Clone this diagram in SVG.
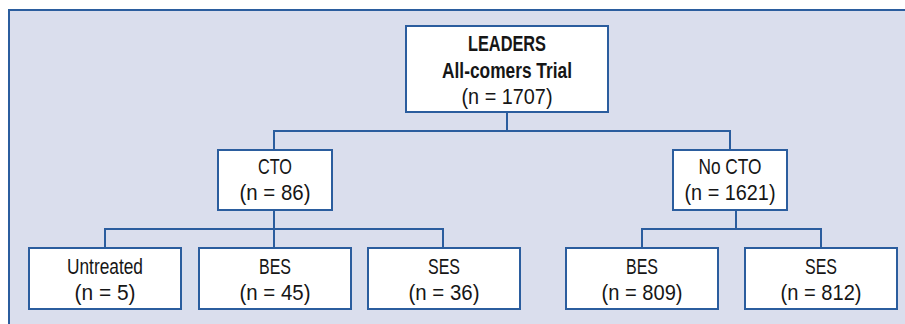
<svg xmlns="http://www.w3.org/2000/svg" width="905" height="324" viewBox="0 0 905 324">
<style>
.bx{fill:#ffffff;stroke:#2b5d9e;stroke-width:2}
.ln{fill:none;stroke:#2b5d9e;stroke-width:2}
text{font-family:"Liberation Sans",Arial,sans-serif;font-size:22px;fill:#161616;text-anchor:middle}
.b{font-weight:bold}
</style>
<rect x="0" y="0" width="905" height="324" fill="#ffffff"/>
<rect x="9" y="10" width="900" height="320" fill="#dadeed" stroke="#2b5d9e" stroke-width="2"/>
<g id="connectors">
<path class="ln" d="M507 111 V131 M274 150 V131 H730 V150"/>
<path class="ln" d="M274 210 V229 M105 248 V229 H443 V248 M274 229 V248"/>
<path class="ln" d="M736 210 V229 M642 248 V229 H821 V248"/>
</g>
<g id="n_root">
<rect class="bx" x="406" y="26" width="202" height="86"/>
<text class="b" x="507" y="51" textLength="78" lengthAdjust="spacingAndGlyphs">LEADERS</text>
<text class="b" x="507" y="78" textLength="130" lengthAdjust="spacingAndGlyphs">All-comers Trial</text>
<text x="507" y="104" textLength="91" lengthAdjust="spacingAndGlyphs">(n = 1707)</text>
</g>
<g id="n_cto">
<rect class="bx" x="218" y="150" width="114" height="60"/>
<text x="275" y="174" textLength="34" lengthAdjust="spacingAndGlyphs">CTO</text>
<text x="275" y="200" textLength="71" lengthAdjust="spacingAndGlyphs">(n = 86)</text>
</g>
<g id="n_nocto">
<rect class="bx" x="673" y="150" width="114" height="60"/>
<text x="730" y="174" textLength="63" lengthAdjust="spacingAndGlyphs">No CTO</text>
<text x="730" y="200" textLength="91" lengthAdjust="spacingAndGlyphs">(n = 1621)</text>
</g>
<g id="n_untreated">
<rect class="bx" x="29" y="248" width="152" height="61"/>
<text x="105" y="274" textLength="76" lengthAdjust="spacingAndGlyphs">Untreated</text>
<text x="105" y="300" textLength="61" lengthAdjust="spacingAndGlyphs">(n = 5)</text>
</g>
<g id="n_cto_bes">
<rect class="bx" x="199" y="248" width="152" height="61"/>
<text x="275" y="274" textLength="32" lengthAdjust="spacingAndGlyphs">BES</text>
<text x="275" y="300" textLength="71" lengthAdjust="spacingAndGlyphs">(n = 45)</text>
</g>
<g id="n_cto_ses">
<rect class="bx" x="368" y="248" width="152" height="61"/>
<text x="444" y="274" textLength="32" lengthAdjust="spacingAndGlyphs">SES</text>
<text x="444" y="300" textLength="71" lengthAdjust="spacingAndGlyphs">(n = 36)</text>
</g>
<g id="n_nocto_bes">
<rect class="bx" x="566" y="248" width="152" height="61"/>
<text x="642" y="274" textLength="32" lengthAdjust="spacingAndGlyphs">BES</text>
<text x="642" y="300" textLength="81" lengthAdjust="spacingAndGlyphs">(n = 809)</text>
</g>
<g id="n_nocto_ses">
<rect class="bx" x="745" y="248" width="152" height="61"/>
<text x="821" y="274" textLength="32" lengthAdjust="spacingAndGlyphs">SES</text>
<text x="821" y="300" textLength="81" lengthAdjust="spacingAndGlyphs">(n = 812)</text>
</g>
</svg>
